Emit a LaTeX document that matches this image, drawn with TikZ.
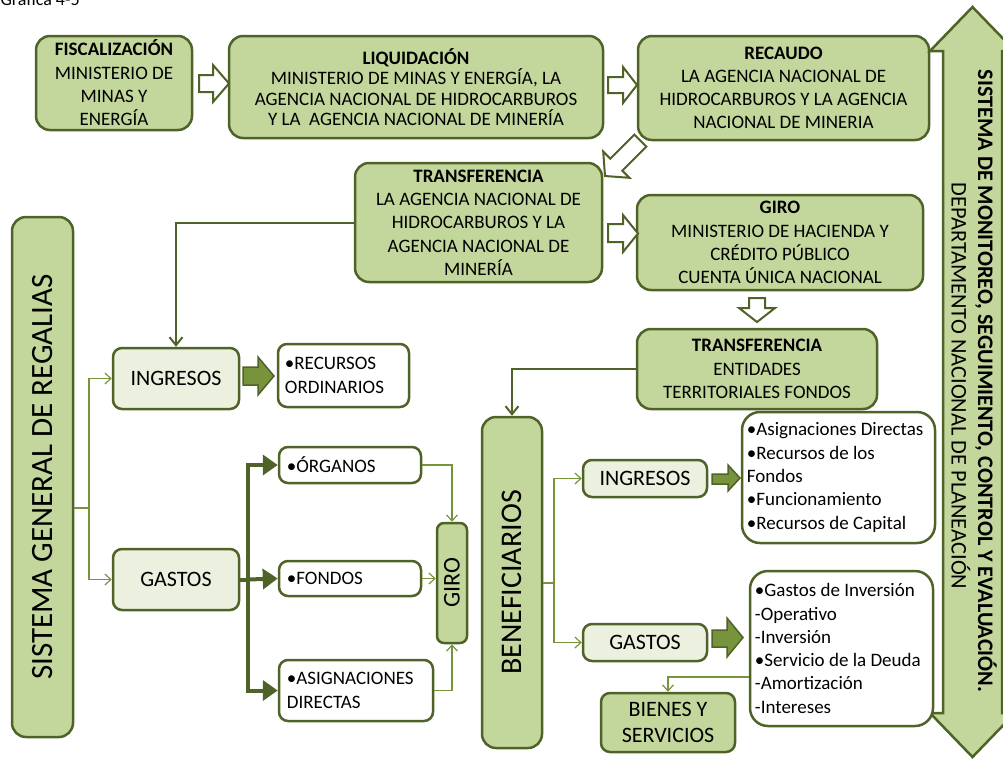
\documentclass[tikz,border=0pt]{standalone}
\usepackage{fontspec}
\setmainfont{Carlito}
\usetikzlibrary{arrows.meta}
\definecolor{gfill}{HTML}{C3D69B}
\definecolor{gline}{HTML}{4F6228}
\definecolor{lfill}{HTML}{EBF1DE}
\definecolor{afill}{HTML}{77933C}
\begin{document}
\begin{tikzpicture}[x=1pt,y=-1pt,
  box/.style={draw=gline, line width=2.5pt, rounded corners=14pt, inner sep=0pt, align=center},
  gbox/.style={box, fill=gfill},
  lbox/.style={box, fill=lfill, rounded corners=9pt},
  wbox/.style={box, fill=white, rounded corners=9pt},
  ltext/.style={anchor=west, align=left, inner sep=0pt},
  sz/.style 2 args={minimum width=#1, minimum height=#2},
  fa/.style={font=\fontsize{19}{23.3}\selectfont},
  fb/.style={font=\fontsize{22}{26}\selectfont},
  harrow/.style={draw=gline, line width=2pt, fill=white, line join=miter},
  farrow/.style={draw=gline, line width=1.5pt, fill=afill, line join=miter},
  thinc/.style={draw=afill, line width=1.2pt, -{Straight Barb[length=6pt,width=11pt]}},
  thinl/.style={draw=afill, line width=1.2pt},
  midc/.style={draw=gline, line width=2pt, -{Straight Barb[length=8pt,width=13pt]}},
  thickc/.style={draw=gline, line width=4pt, -{Triangle[length=15pt,width=20pt]}},
  thickl/.style={draw=gline, line width=4pt}
]
\useasboundingbox (0,0) rectangle (1003,761);

\node[anchor=base west, font=\fontsize{18}{20}\selectfont] (cap) at (-3,5) {Gráfica 4-5};

% top chain
\node[gbox, sz={156}{94}, fa] (fisc) at (114,83)
  {\textbf{FISCALIZACIÓN}\\MINISTERIO DE\\MINAS Y\\ENERGÍA};
\node[gbox, sz={374}{102}, font=\fontsize{19}{20.5}\selectfont] (liq) at (416,87)
  {\textbf{LIQUIDACIÓN}\\MINISTERIO DE MINAS Y ENERGÍA, LA\\AGENCIA NACIONAL DE HIDROCARBUROS\\Y LA\ \ AGENCIA NACIONAL DE MINERÍA};
\node[gbox, sz={291}{104}, font=\fontsize{19}{23}\selectfont] (rec) at (783.5,88)
  {\textbf{RECAUDO}\\LA AGENCIA NACIONAL DE\\HIDROCARBUROS Y LA AGENCIA\\NACIONAL DE MINERIA};
\node[gbox, sz={247}{119}, fa] (tr1) at (478.5,222.5)
  {\textbf{TRANSFERENCIA}\\LA AGENCIA NACIONAL DE\\HIDROCARBUROS Y LA\\AGENCIA NACIONAL DE\\MINERÍA};
\node[gbox, sz={286}{95}, fa] (giro) at (780,242.5)
  {\textbf{GIRO}\\MINISTERIO DE HACIENDA Y\\CRÉDITO PÚBLICO\\CUENTA ÚNICA NACIONAL};
\node[gbox, sz={240}{80}, font=\fontsize{19}{23.8}\selectfont] (tr2) at (757,369)
  {\textbf{TRANSFERENCIA}\\ENTIDADES\\TERRITORIALES FONDOS};

% hollow block arrows
\draw[harrow] (199,75) -- (213,75) -- (213,65) -- (229,83.5) -- (213,102) -- (213,92) -- (199,92) -- cycle;
\draw[harrow] (608,77) -- (623,77) -- (623,67) -- (637,85) -- (623,103) -- (623,93) -- (608,93) -- cycle;
\draw[harrow] (634.4,134.6) -- (610.3,158.7) -- (603.2,151.6) -- (605,176) -- (629.4,177.8) -- (622.3,170.7) -- (646.4,146.6) -- cycle;
\draw[harrow] (608,224) -- (623,224) -- (623,215) -- (638,233.5) -- (623,252) -- (623,242) -- (608,242) -- cycle;
\draw[harrow] (749,298) -- (749,308) -- (739,308) -- (757,322) -- (775,308) -- (765,308) -- (765,298) -- cycle;

% big double arrow
\draw[draw=gline, fill=gfill, line width=2.5pt, line join=miter]
  (943,51) -- (930,51) -- (972.5,7) -- (1015,51) -- (1002,51) -- (1002,713) -- (1015,713)
  -- (972.5,757) -- (930,713) -- (943,713) -- cycle;
\node[rotate=-90, font=\bfseries\fontsize{22.2}{25}\selectfont] (mon1) at (986,381)
  {SISTEMA DE MONITOREO, SEGUIMIENTO, CONTROL Y EVALUACIÓN.};
\node[rotate=-90, font=\fontsize{22.4}{25}\selectfont] (mon2) at (961,386)
  {DEPARTAMENTO NACIONAL DE PLANEACIÓN};

% left system
\node[gbox, sz={61}{520}] (sgr) at (42.5,477) {};
\node[rotate=90, font=\fontsize{31}{34}\selectfont] (sgrt) at (sgr) {SISTEMA GENERAL DE REGALIAS};
\node[lbox, sz={126}{61}, fb] (ingL) at (176,378.5) {INGRESOS};
\node[lbox, sz={126}{61}, fb] (gasL) at (176,579.5) {GASTOS};
\node[wbox, sz={131}{63}] (rord) at (343.5,375.5) {};
\node[ltext, fa] (rordt) at ([xshift=8pt]rord.west) {•RECURSOS\\ORDINARIOS};
\node[wbox, sz={142}{36}] (org) at (350,465) {};
\node[ltext, fa] (orgt) at ([xshift=9pt]org.west) {•ÓRGANOS};
\node[wbox, sz={142}{35}] (fon) at (350,578.5) {};
\node[ltext, fa] (font) at ([xshift=9pt]fon.west) {•FONDOS};
\node[wbox, sz={154}{61}] (asig) at (356,690.5) {};
\node[ltext, fa] (asigt) at ([xshift=9pt]asig.west) {•ASIGNACIONES\\DIRECTAS};
\node[gbox, rounded corners=7pt, sz={30}{120}] (giroS) at (452,583) {};
\node[rotate=90, font=\fontsize{24}{26}\selectfont] (girot) at (giroS) {GIRO};

% beneficiaries
\node[gbox, sz={60}{331}] (ben) at (512,582.5) {};
\node[rotate=90, font=\fontsize{30}{34}\selectfont] (bent) at (ben) {BENEFICIARIOS};
\node[lbox, sz={124}{37}, fb] (ingR) at (645,478.5) {INGRESOS};
\node[lbox, sz={124}{37}, fb] (gasR) at (645,642.5) {GASTOS};
\node[wbox, rounded corners=18pt, sz={193}{131}] (ingList) at (838.5,477.5) {};
\node[ltext, fa] (ingListt) at ([xshift=6pt]ingList.west)
  {•Asignaciones Directas\\•Recursos de los\\Fondos\\•Funcionamiento\\•Recursos de Capital};
\node[wbox, rounded corners=18pt, sz={183}{155}] (gasList) at (841.5,648.5) {};
\node[ltext, fa] (gasListt) at ([xshift=6pt]gasList.west)
  {•Gastos de Inversión\\-Operativo\\-Inversión\\•Servicio de la Deuda\\-Amortización\\-Intereses};
\node[gbox, rounded corners=9pt, sz={134}{59}, font=\fontsize{22}{26.5}\selectfont] (bienes) at (668,722.5)
  {BIENES Y\\SERVICIOS};

% filled block arrows
\draw[farrow] (243,367) -- (258,367) -- (258,357) -- (274,376) -- (258,395) -- (258,385) -- (243,385) -- cycle;
\draw[farrow] (712,474) -- (728,474) -- (728,465) -- (740,478) -- (728,491) -- (728,484) -- (712,484) -- cycle;
\draw[farrow] (712,630) -- (727,630) -- (727,618) -- (743,637.5) -- (727,657) -- (727,647) -- (712,647) -- cycle;

% connectors
\draw[midc] (tr1.west) -| (ingL.north);
\coordinate (j1) at (89,508);
\draw[thinl] (sgr.east |- j1) -- (j1);
\draw[thinc] (j1) |- (ingL.west);
\draw[thinc] (j1) |- (gasL.west);

\coordinate (j2) at (248,579.5);
\draw[thickl] (gasL.east) -- (j2);
\draw[thickc] (j2) |- (org.west);
\draw[thickc] (j2) -- (fon.west);
\draw[thickc] (j2) |- (asig.west);

\draw[thinc] (org.east) -| (giroS.north);
\draw[thinc] (fon.east) -- (fon.east -| giroS.west);
\draw[thinc] (asig.east) -| (giroS.south);

\draw[midc] (tr2.west) -| (ben.north);
\coordinate (j3) at (554,583);
\draw[thinl] (ben.east |- j3) -- (j3);
\draw[thinc] (j3) |- (ingR.west);
\draw[thinc] (j3) |- (gasR.west);

\coordinate (j4) at (gasList.west |- 0,677);
\draw[thinc] (j4) -| (bienes.north);
\end{tikzpicture}
\end{document}
